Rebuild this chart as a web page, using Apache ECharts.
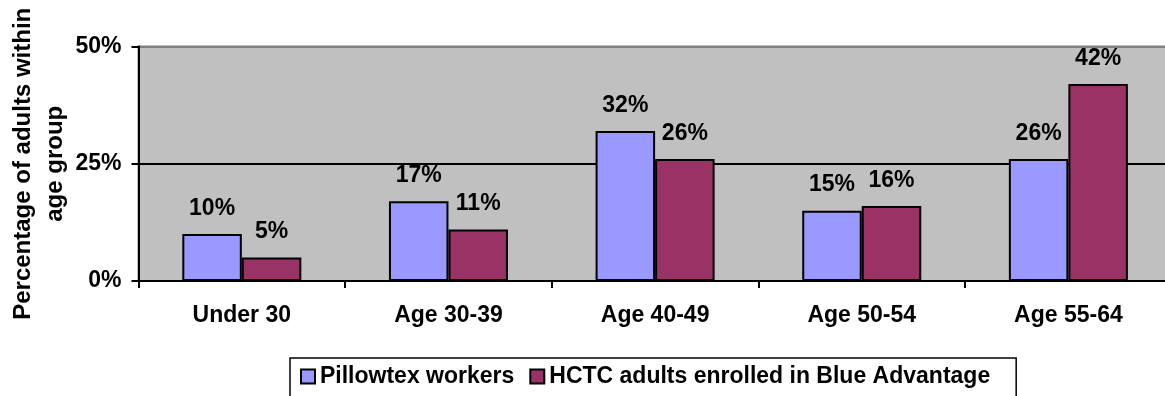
<!DOCTYPE html>
<html>
<head>
<meta charset="utf-8">
<script src="https://cdn.jsdelivr.net/npm/echarts@6/dist/echarts.min.js"></script>
<style>
  html, body { margin: 0; padding: 0; background: #ffffff; }
  #chart { width: 1165px; height: 396px; }
</style>
</head>
<body>
<div id="chart"></div>
<script>
// Age groups along the category axis
const categories = ['Under 30', 'Age 30-39', 'Age 40-49', 'Age 50-54', 'Age 55-64'];
// Share of adults in each age group (%)
const pillowtexWorkers = [10, 17, 32, 15, 26];
const hctcBlueAdvantage = [5, 11, 26, 16, 42];
// Value-axis ticks (%)
const yTicks = [0, 25, 50];

const seriesNames = ['Pillowtex workers', 'HCTC adults enrolled in Blue Advantage'];
const FONT = '"Liberation Sans", Arial, Helvetica, sans-serif';

const chart = echarts.init(document.getElementById('chart'), null, { renderer: 'canvas' });

const barLabel = {
  show: true,
  position: 'top',
  distance: 14,
  formatter: '{c}%',
  color: '#000',
  fontFamily: FONT,
  fontWeight: 'bold',
  fontSize: 23
};

chart.setOption({
  animation: false,
  backgroundColor: '#ffffff',
  textStyle: { fontFamily: FONT },
  grid: {
    left: 138.5,
    right: -6.7,
    top: 46.5,
    bottom: 115,
    containLabel: false,
    outerBoundsMode: 'none',
    show: true,
    backgroundColor: '#C0C0C0',
    borderColor: '#808080',
    borderWidth: 2
  },
  legend: {
    left: 290,
    top: 358,
    padding: [7, 26, 14, 10],
    borderColor: '#000',
    borderWidth: 1.5,
    itemWidth: 14,
    itemHeight: 14,
    itemGap: 15,
    icon: 'rect',
    textStyle: { color: '#000', fontFamily: FONT, fontWeight: 'bold', fontSize: 23 },
    data: seriesNames
  },
  xAxis: {
    type: 'category',
    data: categories,
    axisLine: { show: true, lineStyle: { color: '#000', width: 2 } },
    axisTick: { show: true, length: 7, lineStyle: { color: '#000', width: 2 } },
    axisLabel: {
      color: '#000',
      fontFamily: FONT,
      fontWeight: 'bold',
      fontSize: 23,
      margin: 23,
      interval: 0
    },
    splitLine: { show: false }
  },
  yAxis: {
    type: 'value',
    min: yTicks[0],
    max: yTicks[yTicks.length - 1],
    interval: yTicks[1] - yTicks[0],
    name: 'Percentage of adults within\nage group',
    nameLocation: 'middle',
    nameRotate: 90,
    nameGap: 67.5,
    nameMoveOverlap: false,
    nameTextStyle: {
      color: '#000',
      fontFamily: FONT,
      fontWeight: 'bold',
      fontSize: 24,
      lineHeight: 32,
      align: 'center'
    },
    axisLine: { show: true, lineStyle: { color: '#000', width: 2 } },
    axisTick: { show: true, length: 7, lineStyle: { color: '#000', width: 2 } },
    axisLabel: {
      color: '#000',
      fontFamily: FONT,
      fontWeight: 'bold',
      fontSize: 23,
      margin: 17,
      formatter: '{value}%'
    },
    splitLine: { show: true, lineStyle: { color: ['#000', '#000', '#808080'], width: 2 } }
  },
  series: [
    {
      name: seriesNames[0],
      type: 'bar',
      data: pillowtexWorkers,
      barGap: '0%',
      barCategoryGap: '42.4%',
      itemStyle: { color: '#9999FF', borderColor: '#000', borderWidth: 2 },
      label: barLabel
    },
    {
      name: seriesNames[1],
      type: 'bar',
      data: hctcBlueAdvantage,
      barGap: '0%',
      barCategoryGap: '42.4%',
      itemStyle: { color: '#993366', borderColor: '#000', borderWidth: 2 },
      label: barLabel
    }
  ]
});
</script>
</body>
</html>
